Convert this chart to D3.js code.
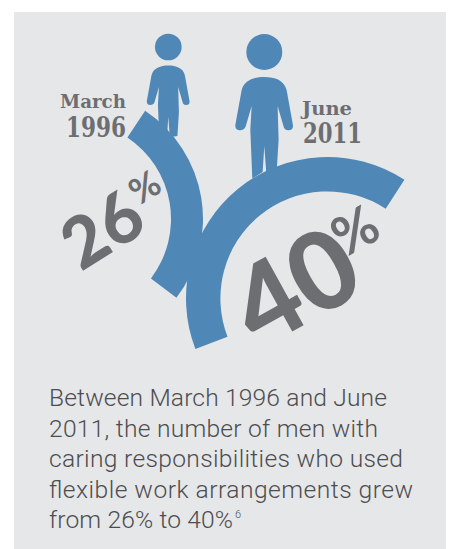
<!DOCTYPE html>
<html>
<head>
<meta charset="utf-8">
<script src="https://cdn.jsdelivr.net/npm/d3@7"></script>
<style>
  html, body { margin: 0; padding: 0; background: #fff; }
  svg { display: block; }
</style>
</head>
<body>
<script>
var months = ["March", "June"];
var years = ["1996", "2011"];
var shares = [26, 40];
var captionLines = [
  "Between March 1996 and June",
  "2011, the number of men with",
  "caring responsibilities who used",
  "flexible work arrangements grew",
  "from 26% to 40%"
];
var footnote = "6";

function init () {
  'use strict';
  var w = 449;
  var h = 549;
  var blue = "#4f88b6";
  var grey = "#6d6e71";

  // share of a full circle, so 26% and 40% sweep the right amount
  var sweep = d3.scaleLinear().domain([0, 100]).range([0, 2 * Math.PI]);
  var rad = Math.PI / 180;

  var layout = [
    {
      cx: 73, cy: 219, inner: 98, outer: 130, start: 33.7,
      person: [168.3, 47, 0.247],
      month: [126, 108, 66, 19], year: [126, 137, 60, 27],
      anchor: [81, 272, -32, 70], pct: [139, 206, -32, 36]
    },
    {
      cx: 327.4, cy: 298.4, inner: 107, outer: 141.4, start: -111,
      person: [264.3, 52, 0.333],
      month: [302, 115, 50, 19], year: [303, 143, 59, 27],
      anchor: [259, 350, -29, 108], pct: [345, 258, -29, 54]
    }
  ];

  var captionWidths = [338, 329, 354, 364, 184];

  var svg = d3.select("body")
    .append("svg")
    .attr("width", w)
    .attr("height", h);

  svg.append("rect")
    .attr("x", 14)
    .attr("y", 12)
    .attr("width", 432)
    .attr("height", 537)
    .attr("fill", "#e6e7e9");

  var arc = d3.arc();

  var body = "M0,75C32,75 60,85 67,114L86,219Q88,235 72,235Q60,235 58,224L40,162L43,264L37,360L6,365L0,282" +
    "L-5,360L-36,380L-42,234L-38,162L-56,224Q-60,235 -73,235Q-88,235 -87,219L-68,114C-60,85 -32,75 0,75Z";

  var people = svg.selectAll("g.person")
    .data(layout)
    .enter()
    .append("g")
    .attr("class", "person")
    .attr("transform", function(d) {
      return "translate(" + d.person[0] + "," + d.person[1] + ") scale(" + d.person[2] + ")";
    })
    .attr("fill", blue);

  people.append("circle")
    .attr("r", 54);

  people.append("path")
    .attr("d", body);

  svg.selectAll("path.share")
    .data(shares)
    .enter()
    .append("path")
    .attr("class", "share")
    .attr("transform", function(d, i) {
      return "translate(" + layout[i].cx + "," + layout[i].cy + ")";
    })
    .attr("d", function(d, i) {
      var a = layout[i].start * rad;
      return arc({
        innerRadius: layout[i].inner,
        outerRadius: layout[i].outer,
        startAngle: a,
        endAngle: a + sweep(d)
      });
    })
    .attr("fill", blue);

  function rotated(p) {
    return "translate(" + p[0] + "," + p[1] + ") rotate(" + p[2] + ")";
  }

  svg.selectAll("text.num")
    .data(shares)
    .enter()
    .append("text")
    .attr("class", "num")
    .attr("transform", function(d, i) { return rotated(layout[i].anchor); })
    .attr("font-family", "Lato")
    .attr("font-weight", 900)
    .attr("font-size", function(d, i) { return layout[i].anchor[3]; })
    .attr("fill", grey)
    .text(function(d) { return d; });

  svg.selectAll("text.pct")
    .data(shares)
    .enter()
    .append("text")
    .attr("class", "pct")
    .attr("transform", function(d, i) { return rotated(layout[i].pct); })
    .attr("font-family", "Lato")
    .attr("font-weight", 700)
    .attr("font-size", function(d, i) { return layout[i].pct[3]; })
    .attr("fill", grey)
    .text("%");

  // month and year labels in the slab face
  function label(items, key) {
    svg.selectAll("text." + key)
      .data(items)
      .enter()
      .append("text")
      .attr("class", key)
      .attr("x", function(d, i) { return layout[i][key][0]; })
      .attr("y", function(d, i) { return layout[i][key][1]; })
      .attr("text-anchor", function(d, i) { return i === 0 ? "end" : "start"; })
      .attr("textLength", function(d, i) { return layout[i][key][2]; })
      .attr("lengthAdjust", "spacingAndGlyphs")
      .attr("font-family", "DejaVu Serif")
      .attr("font-weight", 700)
      .attr("font-size", function(d, i) { return layout[i][key][3]; })
      .attr("fill", grey)
      .text(function(d) { return d; });
  }
  label(months, "month");
  label(years, "year");

  svg.selectAll("text.caption")
    .data(captionLines)
    .enter()
    .append("text")
    .attr("class", "caption")
    .attr("x", 49)
    .attr("y", function(d, i) { return 406 + i * 30.5; })
    .attr("textLength", function(d, i) { return captionWidths[i]; })
    .attr("font-family", "Roboto")
    .attr("font-weight", 300)
    .attr("font-size", 24.6)
    .attr("fill", "#4d4d4f")
    .text(function(d) { return d; });

  svg.append("text")
    .attr("x", 49 + captionWidths[4] + 2)
    .attr("y", 406 + 4 * 30.5 - 10)
    .attr("font-family", "Roboto")
    .attr("font-weight", 300)
    .attr("font-size", 11)
    .attr("fill", "#4d4d4f")
    .text(footnote);
}

window.onload = init;
</script>
</body>
</html>
